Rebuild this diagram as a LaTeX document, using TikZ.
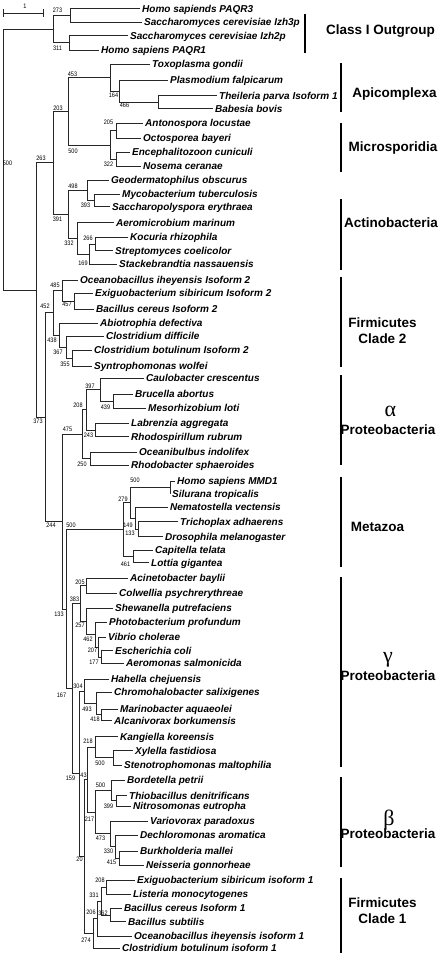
\documentclass[tikz,border=0pt]{standalone}
\usepackage{fontspec}
\setmainfont{Liberation Sans}
\newfontfamily\grkfont{Liberation Serif}
\usepackage{graphicx}
\newcommand\bsn[1]{\scalebox{0.85}[1]{#1}}
\begin{document}
\begin{tikzpicture}[x=1pt,y=-1pt,
  leaf/.style={anchor=west,inner xsep=2pt,inner ysep=0pt,text height=7.2pt,text depth=0pt,font=\fontsize{10}{12}\selectfont\bfseries\itshape},
  br/.style={line width=0.9pt,draw=black!85},
  bs/.style={inner sep=0pt,font=\fontsize{6.5}{7}\selectfont},
  grp/.style={inner sep=0pt,font=\fontsize{13.5}{16}\selectfont\bfseries,align=center},
  gbar/.style={line width=2pt},
  greek/.style={inner sep=0pt,font=\fontsize{22}{24}\selectfont\grkfont}]
\useasboundingbox[fill=white] (0,0) rectangle (441,955);
% ---------- leaves
\node[leaf] (l1) at (140,8.5) {Homo sapiends PAQR3};
\node[leaf] (l2) at (142,22) {Saccharomyces cerevisiae Izh3p};
\node[leaf] (l3) at (128,35.5) {Saccharomyces cerevisiae Izh2p};
\node[leaf] (l4) at (99,50) {Homo sapiens PAQR1};
\node[leaf] (l5) at (150,64) {Toxoplasma gondii};
\node[leaf] (l6) at (168,80) {Plasmodium falpicarum};
\node[leaf] (l7) at (217,95.5) {Theileria parva Isoform 1};
\node[leaf] (l8) at (213,108.5) {Babesia bovis};
\node[leaf] (l9) at (143,123.3) {Antonospora locustae};
\node[leaf] (l10) at (141,138.3) {Octosporea bayeri};
\node[leaf] (l11) at (130,152.3) {Encephalitozoon cuniculi};
\node[leaf] (l12) at (141,166) {Nosema ceranae};
\node[leaf] (l13) at (109,180) {Geodermatophilus obscurus};
\node[leaf] (l14) at (120,194.3) {Mycobacterium tuberculosis};
\node[leaf] (l15) at (110,206.7) {Saccharopolyspora erythraea};
\node[leaf] (l16) at (114,222.7) {Aeromicrobium marinum};
\node[leaf] (l17) at (128,237.3) {Kocuria rhizophila};
\node[leaf] (l18) at (113,250.7) {Streptomyces coelicolor};
\node[leaf] (l19) at (117,264.3) {Stackebrandtia nassauensis};
\node[leaf] (l20) at (78,280) {Oceanobacillus iheyensis Isoform 2};
\node[leaf] (l21) at (93,293.3) {Exiguobacterium sibiricum Isoform 2};
\node[leaf] (l22) at (94,309) {Bacillus cereus Isoform 2};
\node[leaf] (l23) at (98,323.3) {Abiotrophia defectiva};
\node[leaf] (l24) at (104,336) {Clostridium difficile};
\node[leaf] (l25) at (92,350) {Clostridium botulinum Isoform 2};
\node[leaf] (l26) at (92,366) {Syntrophomonas wolfei};
\node[leaf] (l27) at (144,378.3) {Caulobacter crescentus};
\node[leaf] (l28) at (133,394) {Brucella abortus};
\node[leaf] (l29) at (146,408.3) {Mesorhizobium loti};
\node[leaf] (l30) at (129,423.3) {Labrenzia aggregata};
\node[leaf] (l31) at (129,436.7) {Rhodospirillum rubrum};
\node[leaf] (l32) at (137,452.3) {Oceanibulbus indolifex};
\node[leaf] (l33) at (129,465) {Rhodobacter sphaeroides};
\node[leaf] (l34) at (175,481) {Homo sapiens MMD1};
\node[leaf] (l35) at (170,494) {Silurana tropicalis};
\node[leaf] (l36) at (168,507.3) {Nematostella vectensis};
\node[leaf] (l37) at (178,521.7) {Trichoplax adhaerens};
\node[leaf] (l38) at (163,536.7) {Drosophila melanogaster};
\node[leaf] (l39) at (153,550) {Capitella telata};
\node[leaf] (l40) at (149,562.7) {Lottia gigantea};
\node[leaf] (l41) at (128,578.3) {Acinetobacter baylii};
\node[leaf] (l42) at (117,593.3) {Colwellia psychrerythreae};
\node[leaf] (l43) at (113,608.3) {Shewanella putrefaciens};
\node[leaf] (l44) at (107,622.3) {Photobacterium profundum};
\node[leaf] (l45) at (106,637.3) {Vibrio cholerae};
\node[leaf] (l46) at (113,650.7) {Escherichia coli};
\node[leaf] (l47) at (124,663.3) {Aeromonas salmonicida};
\node[leaf] (l48) at (109,679) {Hahella chejuensis};
\node[leaf] (l49) at (112,692.3) {Chromohalobacter salixigenes};
\node[leaf] (l50) at (118,709) {Marinobacter aquaeolei};
\node[leaf] (l51) at (112,720.7) {Alcanivorax borkumensis};
\node[leaf] (l52) at (118,736.7) {Kangiella koreensis};
\node[leaf] (l53) at (133,750.7) {Xylella fastidiosa};
\node[leaf] (l54) at (122,765) {Stenotrophomonas maltophilia};
\node[leaf] (l55) at (125,780) {Bordetella petrii};
\node[leaf] (l56) at (127,795.7) {Thiobacillus denitrificans};
\node[leaf] (l57) at (131,806) {Nitrosomonas eutropha};
\node[leaf] (l58) at (148,821) {Variovorax paradoxus};
\node[leaf] (l59) at (138,835) {Dechloromonas aromatica};
\node[leaf] (l60) at (138,851) {Burkholderia mallei};
\node[leaf] (l61) at (144,865) {Neisseria gonnorheae};
\node[leaf] (l62) at (135,880) {Exiguobacterium sibiricum isoform 1};
\node[leaf] (l63) at (131,894) {Listeria monocytogenes};
\node[leaf] (l64) at (122,908.3) {Bacillus cereus Isoform 1};
\node[leaf] (l65) at (126,921.7) {Bacillus subtilis};
\node[leaf] (l66) at (132,936) {Oceanobacillus iheyensis isoform 1};
\node[leaf] (l67) at (120,948.3) {Clostridium botulinum isoform 1};
% ---------- internal nodes
\coordinate (root) at (3,160);
\coordinate (nOG) at (53,29);
\coordinate (n273) at (70,15.3);
\coordinate (n311) at (69,42.8);
\coordinate (nA) at (36,290);
\coordinate (n263) at (53,162.8);
\coordinate (n203) at (68,111.2);
\coordinate (n453) at (110,77.5);
\coordinate (n164) at (119,91);
\coordinate (n466) at (158,102);
\coordinate (nMic) at (110,145);
\coordinate (n205a) at (116,130.8);
\coordinate (n322) at (116,159.2);
\coordinate (nAct) at (68,214.3);
\coordinate (n498) at (87,190.2);
\coordinate (n393) at (94,200.5);
\coordinate (n332) at (77,238.4);
\coordinate (n169) at (89,254.2);
\coordinate (n266) at (95,244);
\coordinate (nB) at (45.5,417.3);
\coordinate (n452) at (53,312.9);
\coordinate (n485) at (62,290.6);
\coordinate (n457) at (74,301.2);
\coordinate (n438) at (59,335.2);
\coordinate (n367) at (66,347);
\coordinate (n355) at (72,358);
\coordinate (nC) at (62.3,521.7);
\coordinate (n475) at (82,434.3);
\coordinate (n208a) at (86,409.9);
\coordinate (n397) at (100,389.7);
\coordinate (n439) at (113,401.2);
\coordinate (n243) at (95,430);
\coordinate (n250) at (90,458.7);
\coordinate (nD) at (66,609.2);
\coordinate (nMet) at (123,529.6);
\coordinate (n279) at (130,502.9);
\coordinate (n500m) at (170,487.5);
\coordinate (n149) at (135.5,518.2);
\coordinate (n133m) at (138,529.2);
\coordinate (n461) at (133,556.3);
\coordinate (nE) at (72.3,688.8);
\coordinate (n383) at (80.7,603.7);
\coordinate (n205g) at (86.7,585.8);
\coordinate (n257) at (86,621.5);
\coordinate (n462) at (95,634.7);
\coordinate (n207) at (98.3,647.2);
\coordinate (n177) at (101.7,657);
\coordinate (nK) at (79.3,773.9);
\coordinate (n304) at (84,691.3);
\coordinate (n493) at (96,703.6);
\coordinate (n418) at (101,714.8);
\coordinate (nL) at (84.3,856.5);
\coordinate (n43) at (87.7,779.7);
\coordinate (n218) at (95,747.3);
\coordinate (nXS) at (113,757.9);
\coordinate (n217) at (95,812.1);
\coordinate (n500b) at (111,790.4);
\coordinate (n399) at (116,800.9);
\coordinate (n473) at (110,833.8);
\coordinate (n330) at (115,846.5);
\coordinate (n415) at (119,858);
\coordinate (n274) at (93.3,933.4);
\coordinate (n206) at (97.3,918.5);
\coordinate (n331) at (101.7,901);
\coordinate (n208f) at (106.7,887);
\coordinate (n362) at (110,915);
% ---------- branches
\foreach \p/\c in {root/nOG, root/nA,
 nOG/n273, nOG/n311, n273/l1.west, n273/l2.west, n311/l3.west, n311/l4.west,
 nA/n263, nA/nB, n263/n203, n263/nAct, n203/n453, n203/nMic,
 n453/l5.west, n453/n164, n164/l6.west, n164/n466, n466/l7.west, n466/l8.west,
 nMic/n205a, nMic/n322, n205a/l9.west, n205a/l10.west, n322/l11.west, n322/l12.west,
 nAct/n498, nAct/n332, n498/l13.west, n498/n393, n393/l14.west, n393/l15.west,
 n332/l16.west, n332/n169, n169/n266, n169/l19.west, n266/l17.west, n266/l18.west,
 nB/n452, nB/nC, n452/n485, n452/n438, n485/l20.west, n485/n457, n457/l21.west, n457/l22.west,
 n438/l23.west, n438/n367, n367/l24.west, n367/n355, n355/l25.west, n355/l26.west,
 nC/n475, nC/nD, n475/n208a, n475/n250, n208a/n397, n208a/n243, n397/l27.west, n397/n439,
 n439/l28.west, n439/l29.west, n243/l30.west, n243/l31.west, n250/l32.west, n250/l33.west,
 nD/nMet, nD/nE, nMet/n279, nMet/n461, n279/n500m, n279/n149, n500m/l34.west, n500m/l35.west,
 n149/l36.west, n149/n133m, n133m/l37.west, n133m/l38.west, n461/l39.west, n461/l40.west,
 nE/n383, nE/nK, n383/n205g, n383/n257, n205g/l41.west, n205g/l42.west, n257/l43.west, n257/n462,
 n462/l44.west, n462/n207, n207/l45.west, n207/n177, n177/l46.west, n177/l47.west,
 nK/n304, nK/nL, n304/l48.west, n304/n493, n493/l49.west, n493/n418, n418/l50.west, n418/l51.west,
 nL/n43, nL/n274, n43/n218, n43/n217, n218/l52.west, n218/nXS, nXS/l53.west, nXS/l54.west,
 n217/n500b, n217/n473, n500b/l55.west, n500b/n399, n399/l56.west, n399/l57.west,
 n473/l58.west, n473/n330, n330/l59.west, n330/n415, n415/l60.west, n415/l61.west,
 n274/n206, n274/l67.west, n206/n331, n206/l66.west, n331/n208f, n331/n362,
 n208f/l62.west, n208f/l63.west, n362/l64.west, n362/l65.west}
 \draw[br] (\p) |- (\c);
% ---------- bootstrap values
\foreach \n/\x/\y/\t in {b1/57.5/10/273, b2/57.5/48/311, b3/72.5/74.5/453, b4/113.5/95/164,
 b5/124.5/105.5/466, b6/58/108/203, b7/108.5/122.5/205, b8/73/151/500, b9/108.5/164/322,
 b10/41/158/263, b11/7.5/163/500, b12/73/186/498, b13/85.5/205.7/393, b14/57.5/219/391,
 b15/88/238/266, b16/69/243/332, b17/83/263/169, b18/55/285/485, b19/45/306/452,
 b20/67/304.5/457, b21/52/340/438, b22/58/352.5/367, b23/65/364.5/355, b24/90/386/397,
 b25/78/405.5/208, b26/105.5/407/439, b27/38/421.5/373, b28/67.5/429.5/475, b29/88.5/435.5/243,
 b30/82/464/250, b31/135/480/500, b32/123/499/279, b33/128/525.5/149, b34/130/533.5/133,
 b35/51/525.5/244, b36/71/525.5/500, b37/125.5/564.5/461, b38/80/582/205, b39/74.5/599/383,
 b40/59/614.5/133, b41/80/625.5/257, b42/88/639.5/462, b43/92.5/650.5/207, b44/94/662.5/177,
 b45/78/686/304, b46/61.5/695/167, b47/87/709/493, b48/95/719.5/418, b49/88/741/218,
 b50/100/763.3/500, b51/70.5/778/159, b52/83.5/775.5/43, b53/100.5/785/500, b54/108.5/806/399,
 b55/89.5/819.5/217, b56/100.5/838/473, b57/108.5/851/330, b58/79.5/859.5/20, b59/111.5/862/415,
 b60/100/880.7/208, b61/94/895.5/331, b62/103/913/362, b63/91/912/206, b64/86/940/274}
 \node[bs] (\n) at (\x,\y) {\bsn{\t}};
% ---------- scale bar
\coordinate (sbL) at (3,13); \coordinate (sbR) at (43,13);
\coordinate (sbLt) at (3,9); \coordinate (sbLb) at (3,17);
\coordinate (sbRt) at (43,9); \coordinate (sbRb) at (43,17);
\draw[br] (sbL) -- (sbR); \draw[br] (sbLt) -- (sbLb); \draw[br] (sbRt) -- (sbRb);
\node[bs] (sblab) at (25,6) {\bsn{1}};
% ---------- group bars
\foreach \n/\x/\a/\b in {gOG/305/14/53, gAp/341/63/112, gMi/341/123/172, gAc/341/199/270,
 gF2/341/277/367, gAl/341/375/465, gMe/341/477/567, gGa/341/577/767, gBe/341/777/867, gF1/341/878/953}{
 \coordinate (\n t) at (\x,\a); \coordinate (\n b) at (\x,\b);
 \draw[gbar] (\n t) -- (\n b);}
% ---------- group labels
\node[grp] (tOG) at (380.5,31) {Class I Outgroup};
\node[grp] (tAp) at (394.5,94) {Apicomplexa};
\node[grp] (tMi) at (393,148) {Microsporidia};
\node[grp] (tAc) at (391,223) {Actinobacteria};
\node[grp] (tF2) at (382.5,331) {Firmicutes\\Clade 2};
\node[greek] (tAlg) at (390.5,411) {α};
\node[grp] (tAl) at (388,430) {Proteobacteria};
\node[grp] (tMe) at (377.5,527) {Metazoa};
\node[greek] (tGag) at (388,659.5) {γ};
\node[grp] (tGa) at (388,676) {Proteobacteria};
\node[greek] (tBeg) at (389,820) {β};
\node[grp] (tBe) at (388,834) {Proteobacteria};
\node[grp] (tF1) at (382.5,911) {Firmicutes\\Clade 1};
\end{tikzpicture}
\end{document}
